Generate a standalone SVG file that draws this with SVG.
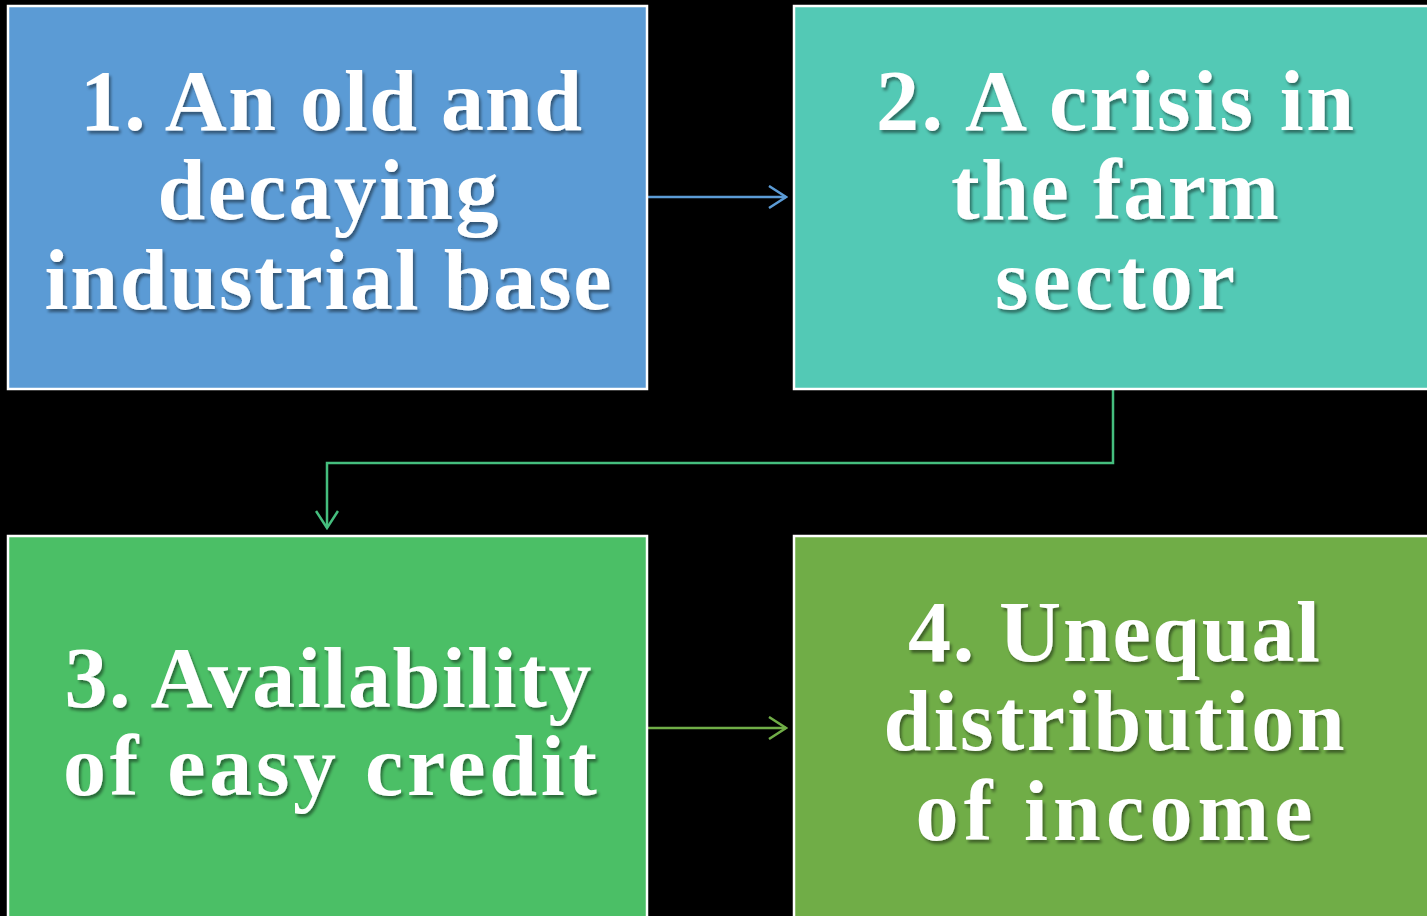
<svg xmlns="http://www.w3.org/2000/svg" width="1427" height="916" viewBox="0 0 1427 916">
  <defs>
    <filter id="shadow" x="-10%" y="-10%" width="120%" height="130%">
      <feDropShadow dx="2" dy="3" stdDeviation="1.5" flood-color="#000" flood-opacity="0.45"/>
    </filter>
    <marker id="chev-blue" viewBox="0 0 20 24" refX="18" refY="12" markerWidth="20" markerHeight="24" markerUnits="userSpaceOnUse" orient="auto">
      <path d="M1,1 L18,12 L1,23" fill="none" stroke="#5B9BD5" stroke-width="2.5"/>
    </marker>
    <marker id="chev-teal" viewBox="0 0 20 24" refX="18" refY="12" markerWidth="20" markerHeight="24" markerUnits="userSpaceOnUse" orient="auto">
      <path d="M1,1 L18,12 L1,23" fill="none" stroke="#45BE7E" stroke-width="2.5"/>
    </marker>
    <marker id="chev-green" viewBox="0 0 20 24" refX="18" refY="12" markerWidth="20" markerHeight="24" markerUnits="userSpaceOnUse" orient="auto">
      <path d="M1,1 L18,12 L1,23" fill="none" stroke="#70AD47" stroke-width="2.5"/>
    </marker>
  </defs>
  <style>
    .box { stroke: #FFFFFF; stroke-width: 2.5; }
    .label { font-family: "Liberation Serif", "Times New Roman", serif; font-weight: bold; font-size: 86px; fill: #FFFFFF; text-anchor: middle; filter: url(#shadow); }
    .conn { fill: none; stroke-width: 2.5; }
  </style>
  <rect width="1427" height="916" fill="#000000"/>

  <g id="connectors">
    <line class="conn" x1="648" y1="197" x2="786" y2="197" stroke="#5B9BD5" marker-end="url(#chev-blue)"/>
    <polyline class="conn" points="1113,389 1113,463 327,463 327,528" stroke="#45BE7E" marker-end="url(#chev-teal)"/>
    <line class="conn" x1="648" y1="728" x2="786" y2="728" stroke="#70AD47" marker-end="url(#chev-green)"/>
  </g>

  <g id="node1">
    <rect class="box" x="8" y="6" width="639" height="383" fill="#5B9BD5"/>
    <text class="label" x="331" y="130" textLength="502" lengthAdjust="spacing">1. An old and</text>
    <text class="label" x="328" y="219" textLength="341" lengthAdjust="spacing">decaying</text>
    <text class="label" x="328" y="309" textLength="567" lengthAdjust="spacing">industrial base</text>
  </g>

  <g id="node2">
    <rect class="box" x="794" y="6" width="645" height="383" fill="#53C9B5"/>
    <text class="label" x="1115" y="130" textLength="478" lengthAdjust="spacing">2. A crisis in</text>
    <text class="label" x="1115" y="219" textLength="328" lengthAdjust="spacing">the farm</text>
    <text class="label" x="1115" y="309" textLength="240" lengthAdjust="spacing">sector</text>
  </g>

  <g id="node3">
    <rect class="box" x="8" y="536" width="639" height="390" fill="#4BBF66"/>
    <text class="label" x="328" y="707" textLength="527" lengthAdjust="spacing">3. Availability</text>
    <text class="label" x="330" y="795" textLength="534" lengthAdjust="spacing">of easy credit</text>
  </g>

  <g id="node4">
    <rect class="box" x="794" y="536" width="645" height="390" fill="#70AD47"/>
    <text class="label" x="1114" y="661" textLength="412" lengthAdjust="spacing">4. Unequal</text>
    <text class="label" x="1114" y="750" textLength="461" lengthAdjust="spacing">distribution</text>
    <text class="label" x="1114" y="840" textLength="397" lengthAdjust="spacing">of income</text>
  </g>
</svg>
